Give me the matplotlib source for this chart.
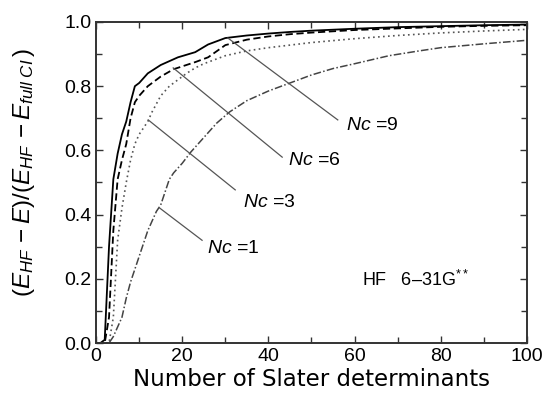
import matplotlib
matplotlib.use("Agg")
import matplotlib.pyplot as plt
from matplotlib.ticker import MultipleLocator

plt.rcParams["font.family"] = ["Liberation Sans", "DejaVu Sans"]
plt.rcParams["mathtext.fontset"] = "custom"
plt.rcParams["mathtext.it"] = "Liberation Sans:italic"
plt.rcParams["mathtext.rm"] = "Liberation Sans"

# Nc = 9 (solid)
x9 = [0, 1, 2, 3, 4, 5, 6, 7, 8, 9, 10, 12, 15, 19, 23, 26, 30, 35, 40, 45, 50, 60, 70, 80, 90, 100]
y9 = [0, 0, 0.01, 0.30, 0.51, 0.59, 0.65, 0.69, 0.75, 0.80, 0.81, 0.84, 0.866, 0.89, 0.906, 0.93, 0.95,
      0.958, 0.964, 0.969, 0.973, 0.979, 0.984, 0.987, 0.99, 0.992]

# Nc = 6 (dashed)
x6 = [0, 1, 2, 3, 4, 5, 6, 7, 8, 9, 10, 12, 15, 18, 23, 26, 30, 35, 40, 45, 50, 60, 70, 80, 90, 100]
y6 = [0, 0, 0, 0.08, 0.35, 0.51, 0.57, 0.62, 0.70, 0.75, 0.77, 0.80, 0.83, 0.853, 0.875, 0.89, 0.928,
      0.945, 0.955, 0.962, 0.967, 0.975, 0.98, 0.985, 0.988, 0.99]

# Nc = 3 (dotted)
x3 = [0, 1, 2, 3, 4, 5, 6, 7, 8, 9, 10, 11, 12, 13, 15, 17, 19, 21, 23, 25, 28, 30, 35, 40, 45, 50,
      60, 70, 80, 90, 100]
y3 = [0, 0, 0, 0, 0.08, 0.32, 0.42, 0.50, 0.57, 0.62, 0.65, 0.67, 0.69, 0.72, 0.77, 0.80, 0.82, 0.84,
      0.857, 0.87, 0.885, 0.895, 0.91, 0.92, 0.928, 0.936, 0.948, 0.958, 0.966, 0.972, 0.977]

# Nc = 1 (dash-dot)
x1 = [0, 1, 2, 3, 4, 5, 6, 7, 8, 9, 10, 11, 12, 13, 14, 15, 16, 17, 18, 20, 22, 25, 28, 31, 35, 40,
      45, 50, 55, 60, 68, 75, 80, 90, 100]
y1 = [0, 0, 0, 0, 0.02, 0.05, 0.08, 0.14, 0.19, 0.23, 0.27, 0.31, 0.35, 0.38, 0.41, 0.43, 0.47, 0.51,
      0.53, 0.56, 0.595, 0.64, 0.685, 0.72, 0.755, 0.785, 0.81, 0.835, 0.855, 0.87, 0.895, 0.91, 0.92,
      0.932, 0.943]

# label pointer lines: (start, end) and text anchor
labels = ["$Nc$ =9", "$Nc$ =6", "$Nc$ =3", "$Nc$ =1"]
ptr_start = [(30.6, 0.950), (17.9, 0.857), (12.1, 0.695), (14.8, 0.42)]
ptr_end = [(56.1, 0.695), (43.2, 0.579), (32.3, 0.477), (24.6, 0.32)]
txt_pos = [(58.0, 0.679), (44.5, 0.567), (34.1, 0.439), (25.8, 0.293)]

fig = plt.figure(figsize=(5.46, 4.0), dpi=100)
ax = fig.add_axes([0.176, 0.1425, 0.789, 0.8025])

ax.plot(x9, y9, color="black", lw=1.3, ls="-")
ax.plot(x6, y6, color="black", lw=1.3, ls=(0, (4, 2)))
ax.plot(x3, y3, color="#555555", lw=1.2, ls=(0, (1, 2)))
ax.plot(x1, y1, color="#444444", lw=1.1, ls=(0, (5, 1.5, 1, 1.5)))

for lab, s, e, t in zip(labels, ptr_start, ptr_end, txt_pos):
    ax.plot([s[0], e[0]], [s[1], e[1]], color="#555555", lw=0.9)
    ax.text(t[0], t[1], lab, fontsize=14, va="center", ha="left")

ax.text(61.7, 0.196, "HF   6\u201331G$^{**}$", fontsize=13, va="center", ha="left")

ax.set_xlim(0, 100)
ax.set_ylim(0, 1.0)
ax.xaxis.set_major_locator(MultipleLocator(20))
ax.xaxis.set_minor_locator(MultipleLocator(10))
ax.yaxis.set_major_locator(MultipleLocator(0.2))
ax.yaxis.set_minor_locator(MultipleLocator(0.1))
ax.yaxis.set_major_formatter(plt.FormatStrFormatter("%.1f"))
ax.tick_params(which="both", direction="in", top=True, right=True, labelsize=14, color="#333333")
ax.tick_params(which="major", length=5, width=1)
ax.tick_params(which="minor", length=4, width=1)
for sp in ax.spines.values():
    sp.set_linewidth(1.4)
    sp.set_color("#333333")

ax.set_xlabel("Number of Slater determinants", fontsize=16.5, labelpad=2, family="DejaVu Sans")
ax.set_ylabel(r"$(E_{HF}\,-E)/(E_{HF}\,-E_{full\ CI}\,)$", fontsize=17.5)
ax.yaxis.set_label_coords(-0.137, 0.533)

fig.savefig("out.png", dpi=100)
